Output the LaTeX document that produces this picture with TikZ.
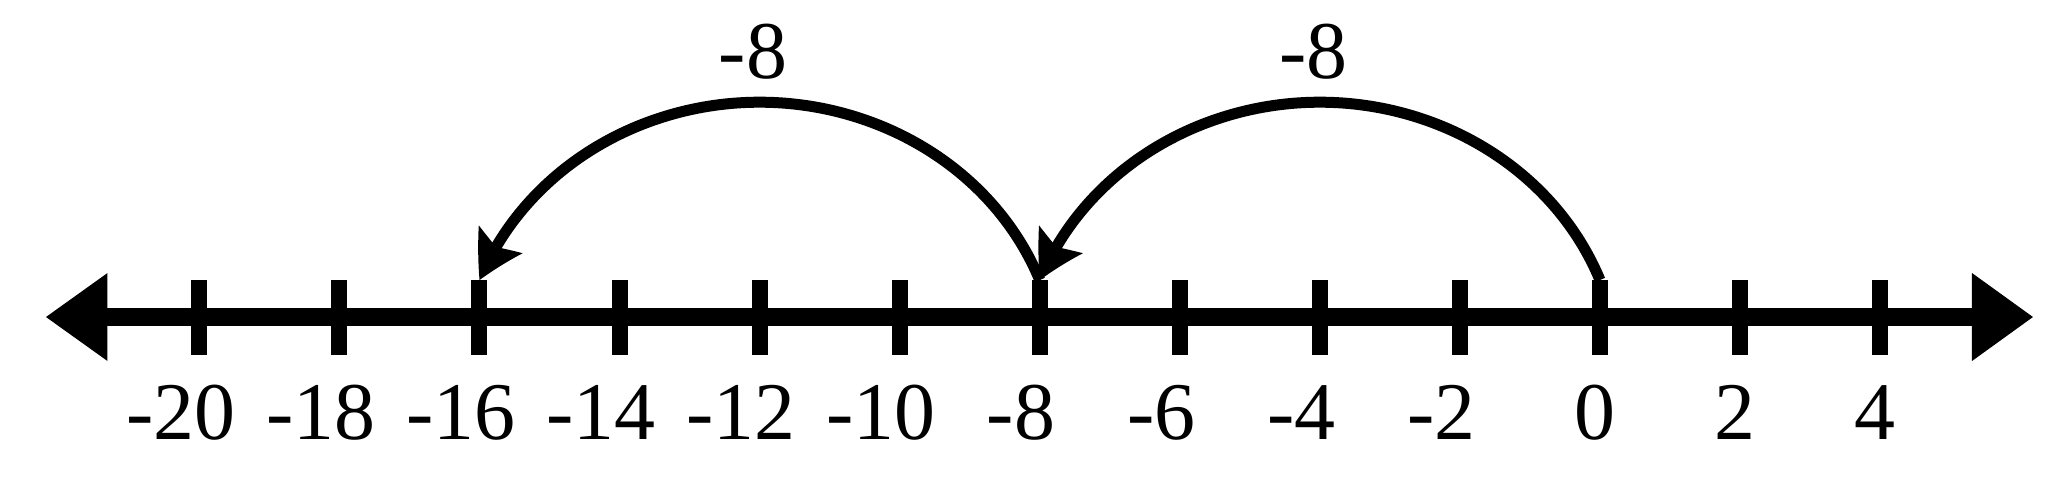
\documentclass[tikz,border=0pt]{standalone}
\usepackage{fontspec}
\setmainfont{Liberation Serif}
\usepackage{tikz}
\usetikzlibrary{
  arrows.meta,
  bending,
  calc,
  positioning
}
\tikzset{>=latex}
\tikzset{font=\fontsize{23.3}{28}\selectfont}
\tikzset{tickmark/.style={line width=0.16cm},
  numline/.style={line width=0.177cm,
    {Triangle[length=0.615cm, width=0.88cm, line width=0pt]}-{Triangle[length=0.61cm, width=0.88cm, line width=0pt]}},
  hop/.style={line width=0.11cm,
    -{Stealth[length=0.46cm, width=0.52cm, inset=0.09cm, line width=0pt, bend]}}}
% digits centred on the tick, the sign hangs to the left
\newcommand{\ticklabel}[1]{\ifnum#1<0 \llap{-}\number\numexpr-#1\relax\else#1\fi}

\begin{document}
\begin{tikzpicture}[x=0.70025cm, y=1cm]
  \useasboundingbox (-22.847,-1.74) rectangle (6.526,3.17);
  \coordinate (lend) at (-22.19,0);
  \coordinate (rend) at (6.183,0);
  \draw[numline] (lend) -- (rend);
  \foreach \v in {-20,-18,...,4} {
    \coordinate (t\v) at (\v,0.37);
    \draw[tickmark] (\v,-0.38) -- (t\v);
    \node[anchor=base, xshift=-0.05cm] (n\v) at (\v,-1.22) {\ticklabel{\v}};
  }
  % the two jumps of -8
  \draw[hop] (t0) arc[start angle=21, end angle=159, x radius=3cm, y radius=2.77cm];
  \draw[hop] (t-8) arc[start angle=21, end angle=159, x radius=3cm, y radius=2.77cm];
  \node[anchor=base, xshift=0.07cm] (jumpa) at (-4,2.38) {\ticklabel{-8}};
  \node[anchor=base, xshift=0.07cm] (jumpb) at (-12,2.38) {\ticklabel{-8}};
\end{tikzpicture}
\end{document}
